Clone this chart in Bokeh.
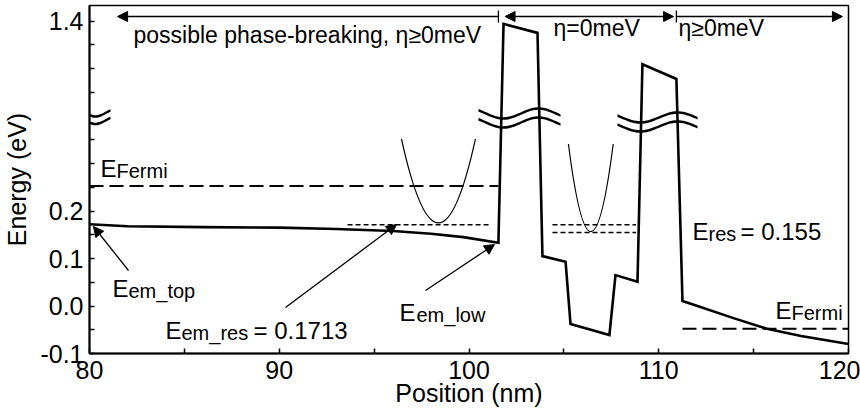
import numpy as np
from bokeh.plotting import figure
from bokeh.models import Range1d, FixedTicker, Arrow, NormalHead, PolyAnnotation
from bokeh.core.properties import value
from bokeh.embed import file_html
from bokeh.resources import INLINE

# ---------------- data (energies in eV, positions in nm) ----------------
position_nm = [80, 82, 86, 90, 93, 96, 98, 99.7, 101.55, 101.82, 103.61, 103.87,
               105.09, 105.35, 107.40, 107.72, 108.88, 109.14, 110.93, 111.25,
               112.2, 113.9, 115.7, 117.5, 120]
band_eV = [0.172, 0.168, 0.166, 0.165, 0.162, 0.158, 0.152, 0.145, 0.133, 1.394,
           1.375, 0.105, 0.093, -0.038, -0.061, 0.065, 0.051, 1.309, 1.278, 0.0105,
           -0.002, -0.025, -0.048, -0.063, -0.080]

fermi_x0 = [80, 111.25]
fermi_x1 = [101.55, 120]
fermi_eV = [0.2526, -0.048]

res_x0 = [93.6, 104.4, 104.4]
res_x1 = [101.13, 108.8, 108.8]
res_eV = [0.1713, 0.1713, 0.155]

para_left = [96.44, 105.24]
para_right = [100.34, 107.6]
para_top_eV = [0.352, 0.341]
para_min_eV = [0.175, 0.1565]

region_edges = [81.48, 101.55, 110.93, 119.68]
region_texts = ["possible phase-breaking, \u03b7\u22650meV", "\u03b7=0meV", "\u03b7\u22650meV"]

x_ticks = [80, 90, 100, 110, 120]
x_minor = [85, 95, 105, 115]
y_tick_vals = [-0.1, 0.0, 0.1, 0.2, 1.4]
y_tick_labels = ["-0.1", "0.0", "0.1", "0.2", "1.4"]
y_minor_vals = [-0.05, 0.05, 0.15, 0.25, 0.3, 0.35, 1.25, 1.3, 1.35]

# broken axis: energies above the break are drawn shifted down by BREAK_SHIFT
BREAK_SHIFT = 0.8
def disp(e):
    return round(e - BREAK_SHIFT if e > 0.8 else e, 6)

FONT = value("Liberation Sans")
XS = 759 / 40.0          # px per nm
YS = 475.0               # px per eV (display)
TEXT_DY = 7.5            # compensation of text baseline placement (px)
def px2x(px):
    return 80 + (px - 89) / XS
def px2y(py):
    return (353 - py) / YS - 0.1
def tpy(py):
    return px2y(py - TEXT_DY)

p = figure(width=860, height=414, x_range=Range1d(80, 120),
           y_range=Range1d(-0.1, -0.1 + 348 / YS),
           output_backend="svg", toolbar_location=None,
           min_border_left=89, min_border_right=12, min_border_top=5, min_border_bottom=61)
p.grid.visible = False
p.outline_line_color = "black"
p.outline_line_width = 1.5
p.background_fill_color = "white"
p.border_fill_color = "white"

xa = p.xaxis[0]
xa.ticker = FixedTicker(ticks=x_ticks, minor_ticks=x_minor)
ya = p.yaxis[0]
ya.ticker = FixedTicker(ticks=[disp(v) for v in y_tick_vals],
                        minor_ticks=[disp(v) for v in y_minor_vals])
ya.major_label_overrides = {disp(v): lab for v, lab in zip(y_tick_vals, y_tick_labels)}
for ax in (xa, ya):
    ax.major_tick_in = 5
    ax.major_tick_out = 0
    ax.minor_tick_in = 5
    ax.minor_tick_out = 0
    ax.axis_line_width = 2
    ax.major_tick_line_width = 1.5
    ax.minor_tick_line_width = 1.5
    ax.major_label_text_font = "Liberation Sans"
    ax.major_label_text_font_size = "25px"
    ax.major_label_text_color = "black"
    ax.axis_label_text_font = "Liberation Sans"
    ax.axis_label_text_font_size = "25px"
    ax.axis_label_text_font_style = "normal"
    ax.axis_label_text_color = "black"
xa.major_label_standoff = 7
ya.major_label_standoff = 6
xa.axis_label = "Position (nm)"
xa.axis_label_standoff = -3
ya.axis_label = "Energy (eV)"
ya.axis_label_standoff = 6

# band profile
p.line(position_nm, [disp(e) for e in band_eV], line_color="black", line_width=2.6,
       line_join="miter")
# Fermi levels
p.segment(fermi_x0, fermi_eV, fermi_x1, fermi_eV, line_color="black", line_width=2,
          line_dash="14 6")
# resonance levels
p.segment(res_x0, res_eV, res_x1, res_eV, line_color="black", line_width=1.5,
          line_dash="5 3")
# parabolas (quadratic Bezier == parabola)
p.quadratic(x0=para_left, y0=[disp(e) for e in para_top_eV],
            x1=para_right, y1=[disp(e) for e in para_top_eV],
            cx=[(a + b) / 2 for a, b in zip(para_left, para_right)],
            cy=[2 * m - t for m, t in zip(para_min_eV, para_top_eV)],
            line_color="black", line_width=1.2)

# break marks (decoration ribbons)
def ribbon(x0px, x1px, ycpx, amp, period, xpk, thick=2.6):
    xs_px = np.linspace(x0px, x1px, 40)
    yy = ycpx + amp * np.cos(2 * np.pi * (xs_px - xpk) / period)
    xs = [px2x(v) for v in xs_px] + [px2x(v) for v in xs_px[::-1]]
    ys = [px2y(v - thick / 2) for v in yy] + [px2y(v + thick / 2) for v in yy[::-1]]
    return xs, ys

for (x0px, x1px, ycpx, amp, period, xpk) in [(478, 560, 113, 5, 70, 503), (478, 560, 122, 5, 70, 503),
                                            (617, 697, 117, 5, 74, 640), (617, 697, 126, 5, 74, 640),
                                            (63, 110, 112.5, -3.5, 40, 75), (63, 110, 120, -3.5, 40, 75)]:
    xs, ys = ribbon(x0px, x1px, ycpx, amp, period, xpk)
    p.add_layout(PolyAnnotation(xs=xs, ys=ys, fill_color="black", fill_alpha=1.0,
                                line_alpha=0))

# region arrows at top
ytop = px2y(16)
def head():
    return NormalHead(size=10, fill_color="black", line_color="black", line_width=1)
p.add_layout(Arrow(x_start=region_edges[1], y_start=ytop, x_end=region_edges[0], y_end=ytop,
                   end=head(), line_width=1.3))
p.add_layout(Arrow(x_start=region_edges[1] + 0.35, y_start=ytop, x_end=region_edges[2] - 0.15,
                   y_end=ytop, start=head(), end=head(), line_width=1.3))
p.add_layout(Arrow(x_start=region_edges[2], y_start=ytop, x_end=region_edges[3], y_end=ytop,
                   end=head(), line_width=1.3))
p.segment([region_edges[1], region_edges[2]], [px2y(10)] * 2,
          [region_edges[1], region_edges[2]], [px2y(22)] * 2, line_color="black", line_width=1.3)

p.text(x=[px2x(133), px2x(553), px2x(678)], y=[tpy(42), tpy(35), tpy(35)], text=region_texts,
       text_font=FONT, text_font_size=value("23px"), text_baseline="alphabetic",
       text_align="left", text_color="black")

# energy labels: main "E", subscripts, and values
p.text(x=[px2x(100), px2x(112), px2x(165), px2x(399), px2x(692), px2x(775)],
       y=[tpy(175), tpy(295), tpy(337), tpy(319), tpy(238), tpy(317)],
       text=["E"] * 6, text_font=FONT, text_font_size=value("24px"),
       text_baseline="alphabetic", text_align="left", text_color="black")
p.text(x=[px2x(116), px2x(128), px2x(181), px2x(416), px2x(708), px2x(791)],
       y=[tpy(178), tpy(298), tpy(340), tpy(322), tpy(241), tpy(320)],
       text=["Fermi", "em_top", "em_res", "em_low", "res", "Fermi"], text_font=FONT,
       text_font_size=value("20px"), text_baseline="alphabetic", text_align="left",
       text_color="black")
p.text(x=[px2x(253), px2x(740)], y=[tpy(337), tpy(238)],
       text=["= 0.1713", "= 0.155"], text_font=FONT, text_font_size=value("24px"),
       text_baseline="alphabetic", text_align="left", text_color="black")

# pointer arrows
for (tx, ty, hx, hy) in [(128, 270, 93, 226), (285, 307, 396, 224), (425, 290, 494, 244)]:
    p.add_layout(Arrow(x_start=px2x(tx), y_start=px2y(ty), x_end=px2x(hx), y_end=px2y(hy),
                       end=head(), line_width=1.3))

open("out.html", "w").write(file_html(p, INLINE))
